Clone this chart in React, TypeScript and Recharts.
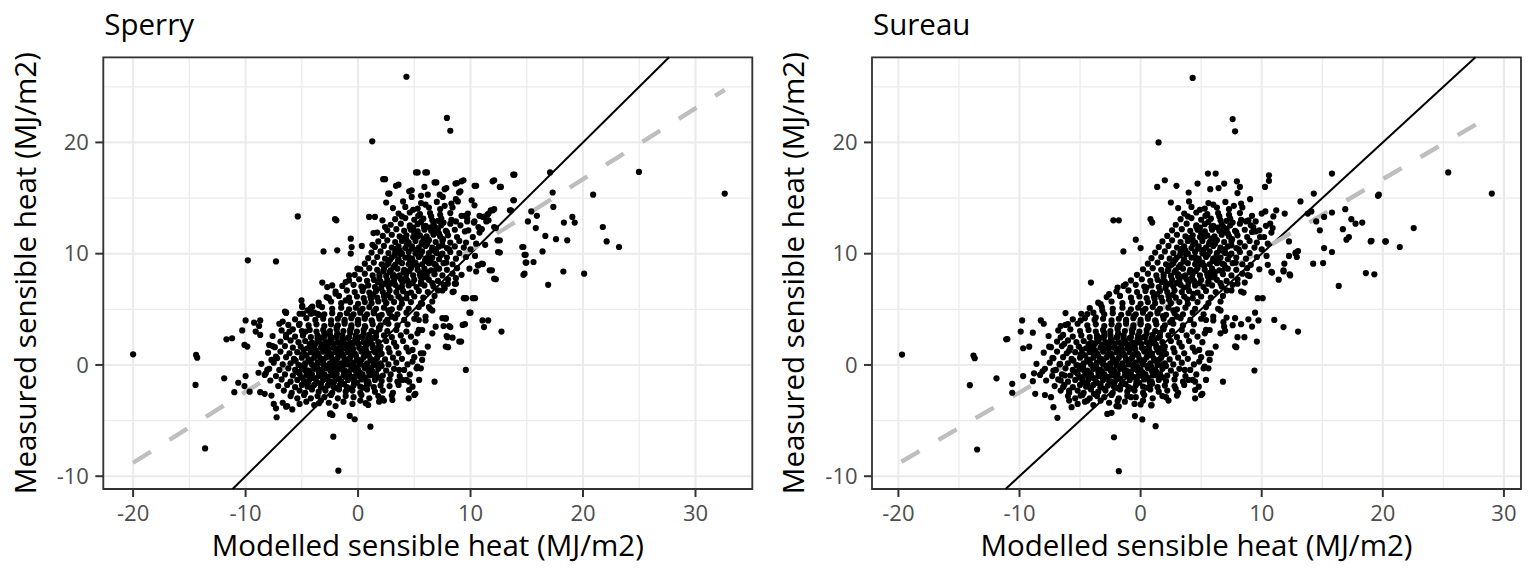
import React from 'react';
import { ScatterChart, Scatter, XAxis, YAxis, CartesianGrid, ReferenceLine, ReferenceArea } from 'recharts';

type Pt = [number, number];

// Dense lower cloud (measured values shared by both panels)
const coreDense: Pt[] = [
  [-5.2,-3.5],[-4.6,-3.3],[-3.9,-3.6],[-3.3,-3.2],[-2.6,-3.4],[-2.0,-3.7],[-1.3,-3.3],[-0.5,-3.5],[0.2,-3.2],[0.9,-3.6],
  [-6.0,-2.8],[-5.4,-3.0],[-4.8,-2.7],[-4.2,-3.0],[-3.6,-2.8],[-3.0,-2.9],[-2.4,-2.7],[-1.8,-3.0],[-1.1,-2.8],[-0.4,-2.9],[0.3,-2.7],[1.0,-3.0],[1.8,-2.8],
  [-6.6,-2.3],[-5.9,-2.5],[-5.2,-2.3],[-4.7,-2.5],[-4.1,-2.2],[-3.5,-2.4],[-2.9,-2.3],[-2.3,-2.5],[-1.7,-2.2],[-1.1,-2.4],[-0.5,-2.3],[0.2,-2.5],[0.8,-2.2],[1.5,-2.4],[2.2,-2.3],[3.1,-2.5],
  [-7.1,-1.9],[-6.3,-1.8],[-5.6,-2.0],[-5.0,-1.8],[-4.5,-1.95],[-3.9,-1.8],[-3.3,-2.0],[-2.7,-1.85],[-2.2,-1.95],[-1.6,-1.8],[-1.0,-2.0],[-0.4,-1.85],[0.2,-1.95],[0.8,-1.8],[1.4,-2.0],[2.0,-1.85],[2.8,-1.9],[3.6,-1.8],
  [-7.8,-1.4],[-6.8,-1.3],[-6.0,-1.5],[-5.4,-1.35],[-4.8,-1.45],[-4.3,-1.3],[-3.7,-1.5],[-3.1,-1.35],[-2.6,-1.45],[-2.0,-1.3],[-1.5,-1.5],[-0.9,-1.35],[-0.3,-1.45],[0.3,-1.3],[0.9,-1.5],[1.5,-1.35],[2.1,-1.45],[2.8,-1.3],[3.5,-1.5],[4.3,-1.35],
  [-8.3,-0.9],[-7.3,-1.0],[-6.5,-0.85],[-5.8,-0.95],[-5.2,-0.8],[-4.6,-0.95],[-4.1,-0.85],[-3.5,-1.0],[-3.0,-0.85],[-2.4,-0.95],[-1.9,-0.8],[-1.3,-0.95],[-0.8,-0.85],[-0.2,-1.0],[0.4,-0.85],[1.0,-0.95],[1.6,-0.8],[2.2,-0.95],[2.9,-0.85],[3.7,-1.0],[4.6,-0.85],
  [-7.9,-0.35],[-7.0,-0.45],[-6.2,-0.3],[-5.6,-0.45],[-5.0,-0.35],[-4.4,-0.5],[-3.9,-0.35],[-3.3,-0.45],[-2.8,-0.3],[-2.2,-0.45],[-1.7,-0.35],[-1.2,-0.5],[-0.6,-0.35],[0.0,-0.45],[0.6,-0.3],[1.2,-0.45],[1.8,-0.35],[2.5,-0.5],[3.2,-0.35],[4.1,-0.45],[5.2,-0.3],
  [-8.6,0.1],[-7.5,0.2],[-6.7,0.05],[-6.0,0.15],[-5.3,0.0],[-4.7,0.15],[-4.1,0.05],[-3.6,0.2],[-3.1,0.05],[-2.5,0.15],[-2.0,0.0],[-1.5,0.15],[-1.0,0.05],[-0.4,0.2],[0.2,0.05],[0.8,0.15],[1.4,0.0],[2.0,0.15],[2.7,0.05],[3.4,0.2],[4.4,0.05],
  [-7.2,0.6],[-6.4,0.7],[-5.7,0.55],[-5.0,0.65],[-4.4,0.5],[-3.9,0.65],[-3.3,0.55],[-2.8,0.7],[-2.3,0.55],[-1.8,0.65],[-1.2,0.5],[-0.7,0.65],[-0.1,0.55],[0.5,0.7],[1.1,0.55],[1.7,0.65],[2.4,0.5],[3.1,0.65],[3.9,0.55],[5.0,0.7],
  [-8.0,1.1],[-6.9,1.2],[-6.1,1.05],[-5.4,1.15],[-4.8,1.0],[-4.2,1.15],[-3.6,1.05],[-3.1,1.2],[-2.5,1.05],[-2.0,1.15],[-1.4,1.0],[-0.9,1.15],[-0.3,1.05],[0.3,1.2],[0.9,1.05],[1.5,1.15],[2.1,1.0],[2.8,1.15],[3.6,1.05],[4.5,1.2],[5.8,1.05],
  [-7.4,1.6],[-6.5,1.7],[-5.8,1.55],[-5.1,1.65],[-4.5,1.5],[-3.9,1.65],[-3.3,1.55],[-2.7,1.7],[-2.2,1.55],[-1.6,1.65],[-1.1,1.5],[-0.5,1.65],[0.1,1.55],[0.7,1.7],[1.3,1.55],[2.0,1.65],[2.7,1.5],[3.4,1.65],[4.3,1.55],
  [-6.9,2.1],[-6.0,2.2],[-5.3,2.05],[-4.7,2.15],[-4.1,2.0],[-3.5,2.15],[-2.9,2.05],[-2.4,2.2],[-1.8,2.05],[-1.3,2.15],[-0.7,2.0],[-0.1,2.15],[0.5,2.05],[1.1,2.2],[1.8,2.05],[2.5,2.15],[3.2,2.0],[4.0,2.15],[5.1,2.05],
  [-7.6,2.6],[-6.4,2.7],[-5.6,2.55],[-4.9,2.65],[-4.2,2.5],[-3.6,2.65],[-3.0,2.55],[-2.5,2.7],[-1.9,2.55],[-1.4,2.65],[-0.8,2.5],[-0.2,2.65],[0.4,2.55],[1.0,2.7],[1.6,2.55],[2.3,2.65],[3.0,2.5],[3.8,2.65],[4.7,2.55],
  [-6.8,3.1],[-5.8,3.2],[-5.0,3.05],[-4.3,3.15],[-3.7,3.0],[-3.1,3.15],[-2.5,3.05],[-1.9,3.2],[-1.3,3.05],[-0.7,3.15],[-0.1,3.0],[0.5,3.15],[1.2,3.05],[1.9,3.2],[2.6,3.05],[3.4,3.15],[4.3,3.0],[5.4,3.15],
  [-6.2,3.6],[-5.2,3.7],[-4.4,3.55],[-3.7,3.65],[-3.0,3.5],[-2.4,3.65],[-1.8,3.55],[-1.2,3.7],[-0.6,3.55],[0.0,3.65],[0.6,3.5],[1.3,3.65],[2.0,3.55],[2.7,3.7],[3.5,3.55],[4.4,3.65],
  [-5.6,4.1],[-4.6,4.2],[-3.8,4.05],[-3.1,4.15],[-2.4,4.0],[-1.8,4.15],[-1.2,4.05],[-0.6,4.2],[0.0,4.05],[0.6,4.15],[1.2,4.0],[1.9,4.15],[2.6,4.05],[3.3,4.2],[4.1,4.05],[5.0,4.15],[6.0,4.0],
  [-4.9,4.6],[-3.9,4.7],[-3.0,4.55],[-2.3,4.65],[-1.6,4.5],[-1.0,4.65],[-0.4,4.55],[0.2,4.7],[0.8,4.55],[1.4,4.65],[2.1,4.5],[2.8,4.65],[3.5,4.55],[4.3,4.7],[5.2,4.55],
  [-4.2,5.1],[-3.2,5.2],[-2.3,5.05],[-1.5,5.15],[-0.8,5.0],[-0.2,5.15],[0.4,5.05],[1.0,5.2],[1.6,5.05],[2.3,5.15],[3.0,5.0],[3.7,5.15],[4.5,5.05],[5.4,5.2],[6.4,5.05],
];

// Extra points in the darkest part of the lower cloud (irregular)
const coreFill: Pt[] = [
  [-4.45,-1.62],[-3.3,-1.7],[-2.15,-1.58],[-1.25,-1.72],[-0.1,-1.6],[0.95,-1.68],
  [-5.05,-1.12],[-3.9,-1.18],[-2.75,-1.08],[-1.7,-1.22],[-0.55,-1.1],[0.6,-1.16],[1.8,-1.12],
  [-5.4,-0.62],[-4.3,-0.68],[-3.2,-0.58],[-2.1,-0.72],[-1.0,-0.6],[0.15,-0.66],[1.3,-0.62],
  [-4.75,-0.16],[-3.65,-0.2],[-2.5,-0.12],[-1.4,-0.22],[-0.3,-0.14],[0.9,-0.18],[2.1,-0.1],
  [-5.55,0.38],[-4.4,0.32],[-3.35,0.42],[-2.2,0.3],[-1.1,0.4],[0.05,0.34],[1.2,0.38],
  [-4.6,0.86],[-3.5,0.82],[-2.4,0.9],[-1.3,0.8],[-0.2,0.88],[0.95,0.84],
  [-4.85,1.38],[-3.75,1.3],[-2.65,1.4],[-1.55,1.32],[-0.45,1.42],[0.7,1.34],[1.95,1.38],
  [-4.3,1.88],[-3.2,1.82],[-2.1,1.92],[-1.05,1.84],[0.05,1.9],[1.25,1.86],
  [-3.6,2.38],[-2.45,2.32],[-1.4,2.4],[-0.25,2.34],[0.9,2.38],
  [-3.0,2.88],[-1.85,2.84],[-0.7,2.9],[0.5,2.82],[1.6,2.88],
  [-1.9,3.38],[-0.6,3.32],[0.65,3.4],[1.85,3.34],
  [-1.2,3.88],[0.0,3.82],[1.25,3.9],[2.45,3.84],
  [-0.55,4.38],[0.6,4.32],[1.85,4.4],[3.0,4.34],
  [0.2,4.88],[1.4,4.82],[2.7,4.9],
  [-4.15,-2.05],[-2.95,-2.15],[-1.95,-2.08],[-0.8,-2.12],[0.45,-2.05],
  [-4.7,-1.55],[-3.6,-1.62],[-2.45,-1.52],[-1.5,-1.6],[-0.35,-1.55],[0.75,-1.5],
  [-4.25,-1.05],[-3.15,-1.12],[-2.05,-1.02],[-0.95,-1.1],[0.2,-1.05],[1.4,-0.98],
  [-4.65,-0.55],[-3.5,-0.62],[-2.45,-0.55],[-1.3,-0.6],[-0.25,-0.52],[0.95,-0.58],
  [-5.05,-0.08],[-3.95,-0.12],[-2.85,-0.05],[-1.75,-0.1],[-0.65,-0.02],[0.55,-0.08],[1.75,-0.02],
  [-4.2,0.45],[-3.05,0.48],[-1.95,0.42],[-0.85,0.5],[0.3,0.44],[1.55,0.48],
  [-4.95,0.95],[-3.85,0.98],[-2.7,0.92],[-1.6,1.0],[-0.5,0.94],[0.6,0.98],[1.85,0.92],
  [-4.15,1.45],[-3.0,1.48],[-1.9,1.42],[-0.8,1.5],[0.35,1.44],[1.55,1.48],
  [-3.75,1.95],[-2.55,1.98],[-1.45,1.92],[-0.35,2.0],[0.85,1.94],
  [-3.2,2.45],[-2.0,2.48],[-0.9,2.42],[0.25,2.5],[1.45,2.44],
];

// Dense upper cloud
const upperDense: Pt[] = [
  [-3.5,5.6],[-2.4,5.7],[-1.5,5.55],[-0.7,5.65],[0.0,5.5],[0.6,5.65],[1.2,5.55],[1.8,5.7],[2.5,5.55],[3.2,5.65],[3.9,5.5],[4.7,5.65],[5.6,5.55],[6.6,5.7],
  [-2.8,6.1],[-1.7,6.2],[-0.8,6.05],[-0.1,6.15],[0.5,6.0],[1.1,6.15],[1.7,6.05],[2.3,6.2],[2.9,6.05],[3.6,6.15],[4.3,6.0],[5.0,6.15],[5.8,6.05],[6.8,6.2],
  [-2.0,6.6],[-1.0,6.7],[-0.3,6.55],[0.4,6.65],[1.0,6.5],[1.6,6.65],[2.2,6.55],[2.8,6.7],[3.4,6.55],[4.0,6.65],[4.7,6.5],[5.4,6.65],[6.2,6.55],[7.1,6.7],
  [-1.4,7.1],[-0.4,7.2],[0.3,7.05],[0.9,7.15],[1.5,7.0],[2.1,7.15],[2.7,7.05],[3.3,7.2],[3.9,7.05],[4.5,7.15],[5.2,7.0],[5.9,7.15],[6.7,7.05],[7.6,7.2],
  [-0.8,7.6],[0.1,7.7],[0.8,7.55],[1.4,7.65],[2.0,7.5],[2.6,7.65],[3.2,7.55],[3.8,7.7],[4.4,7.55],[5.0,7.65],[5.6,7.5],[6.3,7.65],[7.1,7.55],[8.0,7.7],
  [-0.3,8.1],[0.6,8.2],[1.3,8.05],[1.9,8.15],[2.5,8.0],[3.1,8.15],[3.7,8.05],[4.3,8.2],[4.9,8.05],[5.5,8.15],[6.1,8.0],[6.8,8.15],[7.5,8.05],[8.4,8.2],
  [0.2,8.6],[1.0,8.7],[1.7,8.55],[2.3,8.65],[2.9,8.5],[3.5,8.65],[4.1,8.55],[4.7,8.7],[5.3,8.55],[5.9,8.65],[6.5,8.5],[7.2,8.65],[7.9,8.55],[8.8,8.7],
  [0.6,9.1],[1.4,9.2],[2.1,9.05],[2.7,9.15],[3.3,9.0],[3.9,9.15],[4.5,9.05],[5.1,9.2],[5.7,9.05],[6.3,9.15],[6.9,9.0],[7.6,9.15],[8.4,9.05],
  [0.9,9.6],[1.7,9.7],[2.4,9.55],[3.0,9.65],[3.6,9.5],[4.2,9.65],[4.8,9.55],[5.4,9.7],[6.0,9.55],[6.6,9.65],[7.2,9.5],[7.9,9.65],[8.7,9.55],[9.6,9.7],
  [1.2,10.1],[2.0,10.2],[2.7,10.05],[3.3,10.15],[3.9,10.0],[4.5,10.15],[5.1,10.05],[5.7,10.2],[6.3,10.05],[6.9,10.15],[7.5,10.0],[8.2,10.15],[9.0,10.05],
  [1.5,10.6],[2.3,10.7],[3.0,10.55],[3.6,10.65],[4.2,10.5],[4.8,10.65],[5.4,10.55],[6.0,10.7],[6.6,10.55],[7.2,10.65],[7.9,10.5],[8.6,10.65],[9.4,10.55],
  [1.8,11.1],[2.6,11.2],[3.3,11.05],[3.9,11.15],[4.5,11.0],[5.1,11.15],[5.7,11.05],[6.3,11.2],[6.9,11.05],[7.5,11.15],[8.2,11.0],[9.0,11.15],
  [2.2,11.6],[3.0,11.7],[3.7,11.55],[4.3,11.65],[4.9,11.5],[5.5,11.65],[6.1,11.55],[6.7,11.7],[7.3,11.55],[8.0,11.65],[8.8,11.5],
  [2.6,12.1],[3.4,12.2],[4.1,12.05],[4.7,12.15],[5.3,12.0],[5.9,12.15],[6.5,12.05],[7.1,12.2],[7.8,12.05],[8.6,12.15],[9.5,12.0],
  [2.9,12.6],[3.8,12.7],[4.6,12.55],[5.3,12.65],[6.0,12.5],[6.7,12.65],[7.4,12.55],[8.2,12.7],[9.1,12.55],
  [3.3,13.1],[4.2,13.2],[5.0,13.05],[5.8,13.15],[6.6,13.0],[7.4,13.15],[8.3,13.05],
  [3.6,13.6],[4.6,13.7],[5.5,13.55],[6.4,13.65],[7.3,13.5],[8.2,13.65],
  [3.1,14.1],[4.2,14.2],[5.3,14.05],[6.3,14.15],[7.3,14.0],[8.4,14.15],
  [2.5,14.6],[4.0,14.7],[5.6,14.55],[7.0,14.65],[8.3,14.5],
];

// Extra points in the upper cloud (irregular)
const upperFill: Pt[] = [
  [1.35,6.35],[2.05,6.9],[2.65,6.3],[3.55,6.95],[4.35,6.4],[1.75,7.45],[2.95,7.35],[3.45,7.95],[4.85,7.35],
  [2.25,8.45],[3.15,8.8],[4.05,8.35],[5.25,8.9],[6.15,8.35],[2.85,9.45],[3.75,9.95],[4.6,9.35],[5.55,9.9],
  [6.45,9.35],[7.35,9.85],[3.45,10.45],[4.35,10.85],[5.2,10.35],[6.15,10.9],[6.95,10.4],[4.05,11.4],[5.0,11.85],
  [5.85,11.35],[6.75,11.9],[7.55,11.3],[4.6,12.4],[5.6,12.85],[6.35,12.35],[7.1,12.95],[1.15,5.95],[2.35,5.85],
  [3.85,5.9],[0.5,6.95],[5.9,7.9],[6.6,7.35],[7.0,8.75],[7.85,9.2],[8.1,10.4],[7.9,11.95],[8.7,12.9],[9.2,13.4],
  [3.9,13.35],[4.9,13.95],[6.0,14.4],[7.7,14.3],
  [2.45,7.3],[3.95,7.4],[5.6,7.3],[1.9,7.9],[3.1,7.95],[4.25,7.85],[5.55,7.95],[2.8,8.35],[4.55,8.45],[5.75,8.3],
  [6.75,8.45],[2.55,9.0],[3.55,9.3],[4.9,9.05],[5.95,9.35],[6.75,9.1],[3.25,9.85],[4.5,9.7],[5.15,10.0],[6.25,9.75],
  [7.0,10.05],[3.7,10.3],[4.75,10.45],[5.65,10.85],[6.55,10.3],[7.5,10.75],[4.3,11.25],[5.3,11.55],[6.25,11.25],[7.2,11.8],
  [4.9,12.35],[5.85,12.4],[6.85,12.4],[7.6,12.8],[5.35,13.4],[6.5,13.35],
];

// Sparse points, Sperry panel
const sperrySparse: Pt[] = [
  [-20.0,0.95],[-14.4,0.9],[-14.3,0.65],[-14.45,-1.8],[-13.6,-7.5],
  [-11.9,-1.2],[-11.7,2.3],[-11.2,2.4],[-11.0,-2.45],[-10.65,-1.6],[-10.1,-1.9],[-10.0,-1.0],
  [-10.3,3.1],[-10.0,4.0],[-9.24,3.8],[-8.7,4.0],[-9.1,3.0],[-8.7,2.7],[-8.8,3.5],
  [-10.1,1.8],[-9.85,1.65],[-8.85,-0.7],[-8.2,-0.75],[-9.64,-2.4],[-8.7,-2.45],[-8.3,-2.6],[-7.7,-2.75],[-7.5,-3.5],[-7.3,-3.9],[-7.24,-4.7],[-6.7,-3.4],[-6.3,-3.7],[-5.85,-4.0],[-6.4,-3.75],
  [-7.9,1.8],[-7.6,1.7],[-7.7,0.45],[-7.3,0.75],[-8.07,-0.45],
  [-7.0,3.7],[-6.7,3.9],[-6.4,4.7],[-6.1,3.0],[-6.4,2.5],[-6.5,4.8],
  [-5.25,3.6],[-4.66,3.0],[-4.5,4.9],[-4.96,5.3],[-4.07,5.24],[-3.47,4.5],
  [-2.2,-6.45],[-1.75,-9.5],[1.1,-5.55],[-0.74,-4.58],[-0.3,-4.88],[-2.43,-4.34],[-2.28,-4.5],[-3.47,-3.44],[-2.5,-4.4],
  [0.68,-3.44],[1.87,-3.3],[2.17,-3.0],[3.05,-3.14],[2.3,-3.2],[3.0,-2.75],[4.5,-3.0],[5.1,-2.6],[6.8,-1.5],[4.54,-2.25],[4.84,-1.95],[4.54,-1.5],[5.43,-1.35],[5.58,-0.3],[5.0,-2.7],
  [3.65,-0.45],[3.95,-1.35],[9.58,-0.45],
  [9.0,2.1],[7.8,1.65],[7.95,2.5],[7.5,4.2],[8.1,3.5],[9.3,3.6],[9.4,6.0],[10.2,6.0],[9.9,4.7],
  [6.2,1.65],[6.6,2.84],[6.9,3.44],[5.7,3.14],[5.28,2.84],[6.0,4.34],[5.4,4.04],
  [4.84,0.3],[5.28,-0.15],[5.7,0.45],[5.58,1.05],[4.84,1.35],
  [7.8,4.2],[8.2,3.4],[7.6,3.5],[7.87,2.6],[8.4,2.45],[9.16,2.1],[8.0,1.6],
  [9.5,3.66],[11.06,4.0],[11.57,4.0],[11.2,3.4],[12.75,3.0],[10.0,4.7],
  [-9.8,9.4],[-7.3,9.3],[-5.36,13.35],[-2.05,13.1],[-1.93,13.0],[-3.07,10.2],[-1.85,10.3],[-0.65,11.35],[-0.57,10.6],[-0.65,10.0],[0.33,10.7],[1.28,10.8],
  [0.98,13.3],[1.5,13.3],[2.17,13.0],[1.37,11.85],[1.7,11.9],[2.4,12.4],
  [-3.18,7.4],[-2.74,7.0],[-2.3,7.15],[-1.1,7.45],[-0.8,8.05],[-0.06,8.65],
  [-5.03,5.8],[-4.97,5.2],[-4.2,5.06],[-3.48,5.36],[-3.6,4.6],[-4.2,4.6],[-6.4,4.7],[-5.2,4.6],
  [-2.6,6.0],[-2.0,6.4],[-1.1,5.8],
  [4.3,25.9],[7.9,22.2],[8.2,21.05],[1.26,20.1],
  [24.97,17.35],[32.6,15.4],[13.9,17.1],[17.07,17.3],[20.9,15.3],[17.3,15.5],[17.36,14.2],[13.8,14.8],
  [12.1,16.6],[12.7,16.0],[10.5,16.1],[9.37,16.6],[8.8,16.35],[5.3,17.3],[6.13,17.3],[2.4,16.7],[3.37,16.1],[3.6,16.2],[4.77,15.7],[5.9,16.0],[6.96,16.4],[7.85,15.9],[9.1,15.6],[2.8,15.4],[4.77,15.1],[5.6,15.2],[6.2,15.3],[7.26,15.3],[7.53,15.1],[8.7,14.9],[8.87,14.7],[10.1,14.8],[10.35,14.35],[12.1,14.0],[11.8,13.9],[11.5,13.5],[11.1,13.3],[11.6,13.0],[12.25,12.3],[10.35,12.9],[10.7,12.4],[9.76,13.6],[9.7,13.2],
  [12.6,11.2],[12.6,10.1],[14.7,10.6],[14.9,9.9],[16.4,10.2],[16.65,11.6],[17.6,11.3],[18.6,11.2],[18.3,12.8],[19.05,13.3],[19.26,12.8],[15.8,12.3],[15.9,13.4],[15.4,13.8],[15.1,12.9],[21.76,12.4],[22.1,11.1],[23.2,10.6],
  [14.96,9.2],[15.6,9.25],[14.8,8.2],[16.9,7.2],[18.25,8.4],[20.1,8.2],[11.9,8.5],[12.25,7.7],[11.1,9.07],[10.65,8.96],[10.5,8.4],[9.6,6.0],[10.4,6.0],
  [13.86,14.8],[13.6,13.9],[13.5,13.9],[11.98,13.9],[11.6,13.6],[11.2,13.3],[10.8,13.4],[9.5,13.4],[9.7,12.9],[10.3,12.8],[11.4,12.9],[12.1,12.4],[12.4,11.2],[12.45,10.15],[14.6,10.6],[14.8,9.9],[14.9,9.2],[14.7,8.1],
  [2.23,16.7],[5.15,17.3],[5.98,17.3],[6.8,16.4],[8.66,16.3],[9.2,16.5],[8.98,15.5],[10.36,16.1],[11.96,16.5],[12.6,16.0],[13.8,17.1],[2.68,15.4],[4.55,15.6],[7.7,15.8],
  [12.1,7.75],[11.7,8.5],[9.9,8.65],[10.7,8.95],[11.0,9.1],[9.2,8.1],[8.7,7.3],[8.4,6.55],[7.98,7.3],[7.5,6.7],[9.5,6.0],[8.5,6.6],[7.7,6.9],[8.7,7.8],[8.6,7.3],
  [6.6,4.9],[7.8,4.16],[6.3,5.2],[5.7,5.5],
  [10.2,11.5],[10.8,11.9],[11.3,10.8],[10.0,10.4],[9.6,11.0],[10.4,9.8],[11.0,12.2],[9.8,12.1],[10.5,10.9],
];

// Sparse points, Sureau panel
const sureauSparse: Pt[] = [
  [-19.7,0.93],[-13.8,0.84],[-13.7,0.6],[-14.1,-1.82],[-13.5,-7.6],[-11.9,-1.2],[-11.1,2.3],[-11.0,2.33],[-10.6,-1.7],[-10.6,-2.5],[-9.7,-1.0],[-8.9,-1.46],[-8.7,-2.6],
  [-9.78,4.0],[-9.9,3.0],[-9.7,1.5],[-9.2,1.64],[-8.9,2.9],[-8.24,4.0],[-8.0,3.7],
  [-8.8,-0.75],[-8.1,-0.57],[-7.9,-2.7],[-7.4,-2.9],[-7.2,-3.8],[-6.87,-4.75],[-7.2,-0.5],
  [-7.55,1.64],[-7.28,0.63],
  [-6.6,3.5],[-6.0,3.67],[-6.2,4.66],[-6.6,2.48],[-6.3,1.9],[-5.9,1.28],[-6.65,0.09],[-6.26,-0.95],[-6.6,-1.4],[-6.4,-2.0],[-5.9,-2.3],[-5.7,-3.8],[-5.9,-3.2],
  [-4.95,4.0],[-4.4,4.57],[-3.7,4.27],[-3.16,4.87],[-3.3,5.46],[-2.6,6.36],[-1.9,6.96],[-1.24,7.25],[-4.1,7.4],
  [-5.08,-0.2],[-4.8,-1.1],[-4.4,-1.7],[-4.95,-2.75],[-4.4,-3.2],[-3.85,-2.6],[-3.3,-2.0],
  [-2.75,-4.4],[-2.4,-4.3],[-2.2,-6.5],[-1.8,-3.73],[-1.9,-3.25],[-1.8,-9.55],
  [-0.47,-4.6],[0.14,-4.9],[1.24,-5.5],[-0.8,-2.9],[0.0,-3.55],[0.88,-3.64],[2.1,-2.9],[2.9,-2.15],
  [3.65,-0.45],[3.95,-1.35],[4.5,-2.25],[4.8,-1.95],[4.5,-1.5],[5.4,-1.35],[5.6,-0.3],[5.0,-2.7],[6.2,1.65],[6.6,2.84],[6.9,3.44],[5.7,3.14],[5.3,2.84],[6.0,4.34],[5.4,4.04],
  [4.84,0.3],[5.28,-0.15],[5.7,0.45],[5.58,1.05],[4.84,1.35],[2.3,-3.2],[3.0,-2.75],[4.5,-3.0],[5.1,-2.6],[6.8,-1.5],[9.4,-0.5],[7.9,1.6],[8.0,2.5],
  [4.3,25.8],[7.6,22.1],[7.8,21.0],[1.48,20.0],[-2.25,13.0],[-1.8,13.0],[-1.42,10.2],[-0.4,11.26],[0.0,10.5],
  [2.0,16.6],[1.37,16.0],[2.96,16.1],[3.97,15.5],[4.7,16.3],[5.56,17.2],[6.2,17.2],[5.75,15.8],[6.44,15.9],[6.9,16.3],[7.95,16.5],[8.2,16.0],[8.0,15.45],
  [10.6,17.05],[10.6,16.55],[10.27,16.0],[9.04,14.9],[15.8,17.2],[14.3,15.4],[13.2,14.7],[13.8,13.6],[14.1,13.8],[19.6,15.2],
  [16.9,14.0],[17.4,13.1],[17.75,12.7],[18.3,12.8],[16.7,12.2],[17.2,11.5],[17.0,11.26],
  [19.0,11.1],[20.2,11.1],[21.4,10.6],[15.8,13.7],[15.15,13.3],[14.5,12.9],[14.8,12.1],[15.8,10.15],[15.15,10.5],
  [12.8,10.0],[12.25,9.8],[12.25,11.1],[11.9,13.6],[11.2,13.9],[10.96,13.35],[10.3,13.8],[10.0,13.6],[9.5,12.9],[9.3,12.4],[9.86,11.5],[8.9,13.0],[9.2,11.95],[10.7,12.7],[10.35,12.5],[10.9,12.3],
  [14.25,9.1],[15.07,9.16],[10.85,8.3],[11.4,7.66],[11.8,8.4],[12.35,8.05],[16.36,7.1],[18.6,8.26],[19.3,8.14],[13.0,10.24],[12.9,9.7],[0.82,13.1],[0.96,12.8],
  [25.4,17.3],[29.0,15.4],[19.67,15.3],[22.55,12.3],[19.07,11.16],[20.25,11.1],
  [12.8,10.1],[11.87,9.1],[11.8,8.5],[10.8,8.36],[12.3,8.15],
  [9.1,9.0],[8.85,8.07],[8.3,6.6],[9.67,6.0],[10.08,6.0],
  [9.45,4.7],[9.73,4.0],[8.9,4.1],[8.3,3.66],[7.6,3.57],[6.84,3.84],[7.1,4.26],[6.98,3.07],
  [7.8,1.67],[8.57,2.5],[9.6,2.1],[9.2,3.45],[11.04,4.05],[11.8,3.4],[13.0,3.0],
  [7.5,6.7],[8.0,7.3],[8.5,6.5],[6.6,4.9],[7.8,4.2],[9.0,8.0],[8.6,7.4],[9.8,8.6],[10.5,9.0],
  [10.2,11.5],[10.8,11.9],[10.0,10.4],[9.6,11.0],[10.4,9.8],[9.8,12.1],[10.5,10.9],
];

const xTicks = [-20, -10, 0, 10, 20, 30];
const xMinor = [-15, -5, 5, 15, 25];
const yTicks = [-10, 0, 10, 20];
const yMinor = [-5, 5, 15, 25];

const yDomain: [number, number] = [-11.15, 27.65];
const sperryXDomain: [number, number] = [-22.65, 35.05];
const sureauXDomain: [number, number] = [-22.18, 31.41];

// linear fit end points (data units)
const sperryFit = [{ x: -20.0, y: -8.79 }, { x: 32.6, y: 24.72 }];
const sureauFit = [{ x: -19.75, y: -8.70 }, { x: 28.97, y: 22.43 }];

const FONT = '"Open Sans", "Noto Sans", sans-serif';

const Dot = (props: any) => {
  const { cx, cy } = props;
  if (cx == null || cy == null) return null;
  return <circle cx={cx} cy={cy} r={3.1} fill="#000000" />;
};

function Panel(props: { title: string; points: Pt[]; xDomain: [number, number]; fit: { x: number; y: number }[]; yAxisWidth: number; rightMargin: number }) {
  const { title, points, xDomain, fit, yAxisWidth, rightMargin } = props;
  const data = points.map(([x, y]) => ({ x, y }));
  return (
    <div style={{ position: 'relative', width: 768, height: 576 }}>
      <div style={{ position: 'absolute', left: yAxisWidth + 1, top: 9, fontFamily: FONT, fontSize: 29.5, lineHeight: '29.5px', color: '#000', whiteSpace: 'nowrap' }}>{title}</div>
      <ScatterChart width={768} height={576} margin={{ top: 57.3, right: rightMargin, bottom: 0, left: 0 }}>
        <CartesianGrid stroke="#EBEBEB" strokeWidth={1.2} horizontalValues={yMinor} verticalValues={xMinor} />
        <CartesianGrid stroke="#EBEBEB" strokeWidth={2.1} />
        <XAxis
          type="number"
          dataKey="x"
          domain={xDomain}
          ticks={xTicks}
          interval={0}
          allowDataOverflow
          height={87}
          tickSize={8}
          tickMargin={8}
          axisLine={false}
          tickLine={{ stroke: '#333333', strokeWidth: 2 }}
          tick={{ fill: '#4D4D4D', fontSize: 22, fontFamily: FONT }}
          label={{ value: 'Modelled sensible heat (MJ/m2)', position: 'insideBottom', offset: 20.5, style: { fontSize: 29.5, fontFamily: FONT, fill: '#000000' } }}
        />
        <YAxis
          type="number"
          dataKey="y"
          domain={yDomain}
          ticks={yTicks}
          interval={0}
          allowDataOverflow
          width={yAxisWidth}
          tickSize={8}
          tickMargin={6.4}
          axisLine={false}
          tickLine={{ stroke: '#333333', strokeWidth: 2 }}
          tick={{ fill: '#4D4D4D', fontSize: 22, fontFamily: FONT }}
          label={{ value: 'Measured sensible heat (MJ/m2)', angle: -90, position: 'insideLeft', offset: 26, style: { fontSize: 29.5, fontFamily: FONT, fill: '#000000', textAnchor: 'middle' } }}
        />
        <Scatter data={data} shape={Dot} isAnimationActive={false} />
        <ReferenceLine segment={[{ x: yDomain[0], y: yDomain[0] }, { x: yDomain[1], y: yDomain[1] }]} stroke="#000000" strokeWidth={2} ifOverflow="visible" />
        <ReferenceLine segment={fit} stroke="#BEBEBE" strokeWidth={4.4} strokeDasharray="21 22" ifOverflow="visible" />
        <ReferenceArea x1={xDomain[0]} x2={xDomain[1]} y1={yDomain[0]} y2={yDomain[1]} fill="none" fillOpacity={0} stroke="#333333" strokeWidth={1.8} ifOverflow="visible" />
      </ScatterChart>
    </div>
  );
}

export default function App() {
  return (
    <div style={{ position: 'absolute', left: 0, top: 0, width: 1536, height: 576, background: '#ffffff', display: 'flex' }}>
      <Panel title="Sperry" points={[...coreDense, ...coreFill, ...upperDense, ...upperFill, ...sperrySparse]} xDomain={sperryXDomain} fit={sperryFit} yAxisWidth={103.3} rightMargin={15.7} />
      <Panel title="Sureau" points={[...coreDense, ...coreFill, ...upperDense, ...upperFill, ...sureauSparse]} xDomain={sureauXDomain} fit={sureauFit} yAxisWidth={104} rightMargin={15} />
    </div>
  );
}
